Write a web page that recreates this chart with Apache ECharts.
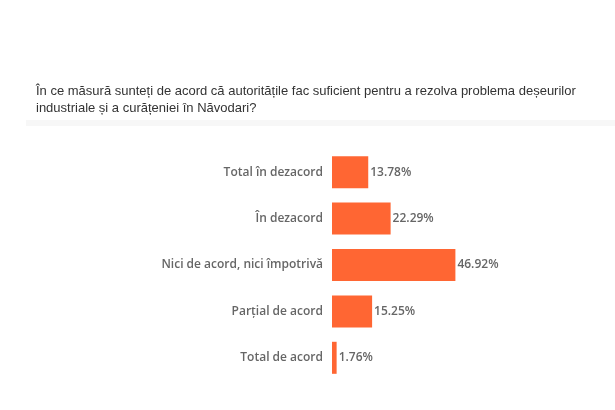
<!DOCTYPE html>
<html><head><meta charset="utf-8">
<script src="https://cdn.jsdelivr.net/npm/echarts@6/dist/echarts.min.js"></script>
<style>html,body{margin:0;padding:0;background:#fff}#c{width:615px;height:410px}</style>
</head><body><div id="c"></div>
<script>
const titleText = "În ce măsură sunteți de acord că autoritățile fac suficient pentru a rezolva problema deșeurilor\nindustriale și a curățeniei în Năvodari?";
const categories = ["Total în dezacord", "În dezacord", "Nici de acord, nici împotrivă", "Parțial de acord", "Total de acord"];
const values = [13.78, 22.29, 46.92, 15.25, 1.76];

const chart = echarts.init(document.getElementById('c'));
chart.setOption({
  animation: false,
  backgroundColor: '#fff',
  title: {
    text: titleText,
    left: 31, top: 78,
    textStyle: { fontFamily: 'Liberation Sans', fontSize: 13, fontWeight: 'normal', color: '#333', lineHeight: 17 }
  },
  graphic: [{ type: 'rect', shape: { x: 26, y: 120, width: 589, height: 6 }, style: { fill: '#f7f7f7' }, silent: true }],
  grid: { left: 332, right: 20, top: 149, bottom: 29, containLabel: false },
  xAxis: { type: 'value', min: 0, max: 100, show: false },
  yAxis: {
    type: 'category', data: categories, inverse: true,
    axisLine: { show: false }, axisTick: { show: false },
    axisLabel: { margin: 9, fontFamily: 'Open Sans', fontSize: 12, fontWeight: 600, color: '#666' }
  },
  series: [{
    type: 'bar', data: values, barWidth: '69%',
    itemStyle: { color: '#ff6633' },
    label: { show: true, position: 'right', distance: 2, formatter: p => p.value.toFixed(2) + '%',
      fontFamily: 'Open Sans', fontSize: 12, fontWeight: 600, color: '#666' }
  }]
});
</script></body></html>
